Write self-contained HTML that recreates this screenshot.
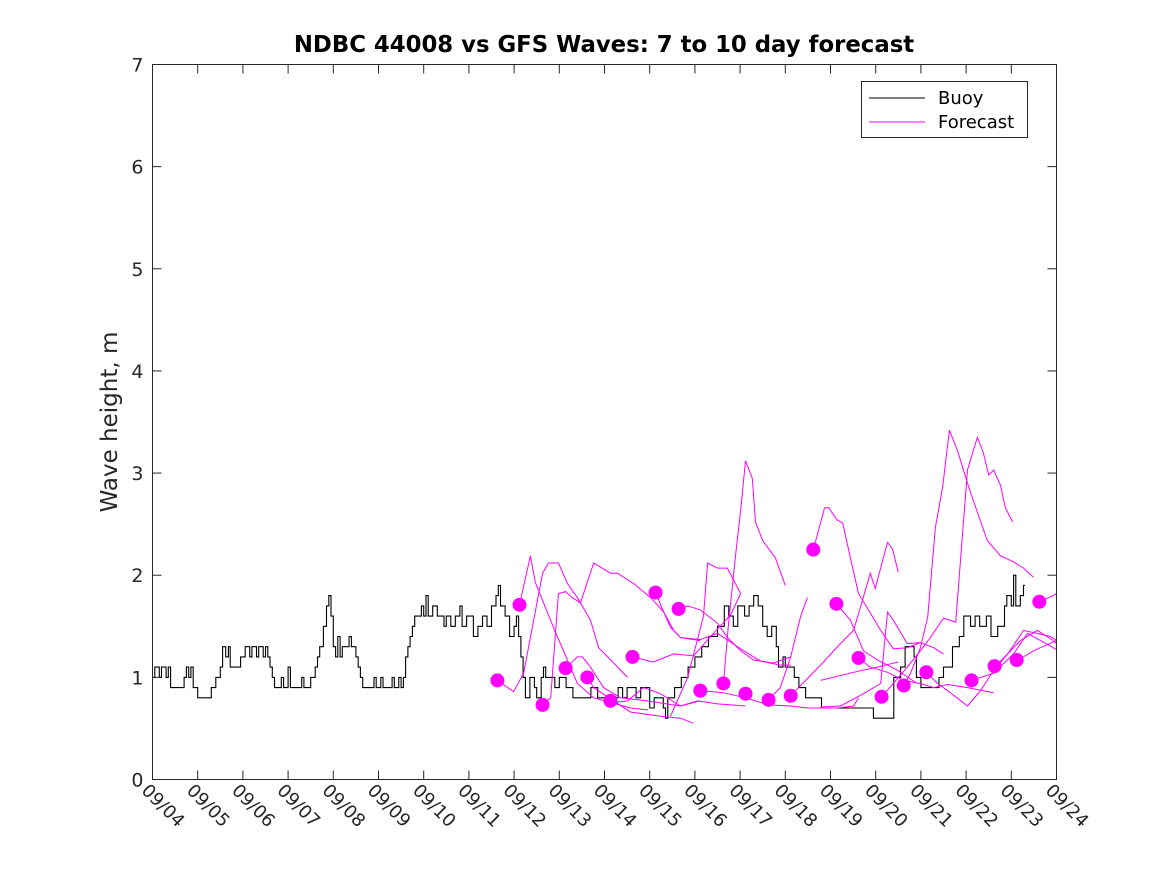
<!DOCTYPE html>
<html><head><meta charset="utf-8"><style>
html,body{margin:0;padding:0;background:#fff;}
svg{display:block;font-family:"DejaVu Sans","Liberation Sans",sans-serif;}
</style></head><body>
<svg id="chart" width="1167" height="875" viewBox="0 0 1167 875" xmlns="http://www.w3.org/2000/svg">
<rect width="1167" height="875" fill="#fff"/>
<text x="604" y="52" text-anchor="middle" font-size="22.8" font-weight="bold" fill="#000">NDBC 44008 vs GFS Waves: 7 to 10 day forecast</text>
<text transform="translate(117,422) rotate(-90)" text-anchor="middle" font-size="23" fill="#262626">Wave height, m</text>
<g id="plot"></g>
<rect x="152.5" y="64.5" width="904" height="715" fill="none" stroke="#262626" stroke-width="1"/>
<g id="axes"></g>
<g>
<rect x="861.5" y="81.5" width="166" height="56" fill="#fff" stroke="#262626"/>
<line x1="869" y1="98" x2="925" y2="98" stroke="#000"/>
<text x="938" y="104" font-size="18" fill="#000">Buoy</text>
<line x1="869" y1="122" x2="925" y2="122" stroke="#ff00ff"/>
<text x="938" y="128" font-size="18" fill="#000">Forecast</text>
</g>
</svg>
<script>
const xTickLabels = ["09/04","09/05","09/06","09/07","09/08","09/09","09/10","09/11","09/12","09/13","09/14","09/15","09/16","09/17","09/18","09/19","09/20","09/21","09/22","09/23","09/24"];
const yTicks = [0,1,2,3,4,5,6,7];
const buoyDay = [0,0.05,0.15,0.2,0.3,0.35,0.4,0.7,0.75,0.8,0.85,0.9,1.0,1.3,1.4,1.5,1.55,1.62,1.68,1.72,1.95,2.05,2.15,2.2,2.3,2.35,2.45,2.5,2.55,2.6,2.65,2.7,2.85,2.9,3.0,3.05,3.3,3.35,3.5,3.6,3.65,3.7,3.78,3.85,3.9,3.95,4.0,4.05,4.1,4.15,4.2,4.35,4.4,4.5,4.55,4.6,4.65,4.9,4.95,5.05,5.1,5.3,5.35,5.45,5.5,5.55,5.6,5.65,5.7,5.75,5.8,5.95,6.0,6.05,6.1,6.2,6.3,6.45,6.5,6.6,6.7,6.8,6.85,6.95,7.1,7.2,7.3,7.4,7.5,7.6,7.65,7.7,7.8,7.9,8.0,8.05,8.1,8.15,8.2,8.25,8.35,8.45,8.5,8.6,8.65,8.7,8.9,9.0,9.15,9.3,9.5,9.7,9.85,10.1,10.3,10.4,10.5,10.7,10.8,11.0,11.1,11.3,11.35,11.4,11.55,11.7,11.85,12.0,12.15,12.3,12.5,12.65,12.75,12.85,12.95,13.1,13.2,13.3,13.4,13.5,13.6,13.7,13.8,13.85,13.95,14.0,14.2,14.3,14.45,14.8,15.95,16.4,16.55,16.65,16.85,16.9,17.0,17.4,17.5,17.7,17.85,17.95,18.1,18.2,18.3,18.45,18.55,18.7,18.85,18.9,19.0,19.05,19.1,19.2,19.27,19.3];
const buoyVal = [1.0,1.1,1.0,1.1,1.0,1.1,0.9,1.0,1.1,1.0,1.1,0.9,0.8,0.9,1.0,1.1,1.3,1.2,1.3,1.1,1.2,1.3,1.2,1.3,1.2,1.3,1.2,1.3,1.2,1.1,1.0,0.9,1.0,0.9,1.1,0.9,1.0,0.9,1.0,1.1,1.2,1.3,1.5,1.7,1.8,1.6,1.3,1.2,1.4,1.2,1.3,1.4,1.3,1.2,1.1,1.0,0.9,1.0,0.9,1.0,0.9,1.0,0.9,1.0,0.9,1.0,1.2,1.3,1.4,1.5,1.6,1.7,1.6,1.8,1.6,1.7,1.6,1.5,1.6,1.5,1.6,1.7,1.5,1.6,1.4,1.5,1.6,1.5,1.7,1.8,1.9,1.7,1.6,1.4,1.5,1.6,1.4,1.2,1.0,0.8,1.0,0.9,0.8,1.0,1.1,1.0,0.9,1.0,0.9,0.8,0.8,0.9,0.8,0.8,0.9,0.8,0.9,0.8,0.9,0.7,0.8,0.7,0.6,0.8,0.9,1.0,1.1,1.2,1.3,1.4,1.5,1.7,1.6,1.5,1.7,1.6,1.7,1.8,1.7,1.5,1.4,1.5,1.3,1.1,1.2,1.1,1.0,0.9,0.8,0.7,0.6,1.0,1.1,1.3,1.2,1.0,0.9,1.0,1.1,1.3,1.4,1.6,1.5,1.6,1.5,1.6,1.4,1.5,1.7,1.8,1.7,2.0,1.7,1.8,1.9,1.9];
const dotDay = [7.63,8.12,8.63,9.14,9.62,10.13,10.62,11.13,11.64,12.12,12.63,13.12,13.63,14.12,14.62,15.13,15.62,16.13,16.62,17.12,18.12,18.63,19.12,19.62];
const dotVal = [0.97,1.71,0.73,1.09,1.0,0.77,1.2,1.83,1.67,0.87,0.94,0.84,0.78,0.82,2.25,1.72,1.19,0.81,0.92,1.05,0.97,1.11,1.17,1.74];
const fc1Day=[7.63,7.99,8.21,8.63,8.76,8.98,9.18,9.40,9.69,9.87,10.07,10.29,10.51];
const fc1Val=[0.97,0.86,1.04,2.02,2.12,2.12,1.92,1.78,1.56,1.29,1.20,1.10,1.00];
const fc2Day=[8.12,8.36,8.47,8.87,9.18,9.40,9.76,10.58,10.97];
const fc2Val=[1.71,2.19,1.93,1.49,1.17,0.94,0.80,0.70,0.68];
const fc3Day=[8.63,8.81,8.98,9.14,9.29,9.47,9.76,10.13,10.29,10.64,11.02,11.31,11.53,11.68,12.12];
const fc3Val=[0.73,0.80,1.82,1.84,1.78,1.73,2.12,2.02,2.02,1.92,1.78,1.64,1.46,1.39,1.36];
const fc4Day=[9.14,9.40,9.51,9.69,9.98,10.35,10.95,11.68,12.12];
const fc4Val=[1.09,1.20,1.20,1.10,0.90,0.80,0.77,0.72,0.77];
const fc5Day=[9.62,9.76,10.20,10.58,11.24,11.68,11.97];
const fc5Val=[1.00,0.90,0.77,0.66,0.62,0.60,0.55];
const fc6Day=[10.13,10.51,10.86,11.24,11.68,12.06,12.50,13.12];
const fc6Val=[0.75,0.77,0.90,0.84,0.72,0.77,0.74,0.72];
const fc7Day=[10.62,11.08,11.53,11.97,12.41,12.79,13.01];
const fc7Val=[1.20,1.15,1.23,1.21,1.43,1.61,1.82];
const fc8Day=[11.13,11.31,11.46,11.68,12.12,12.50,13.01,13.45,13.89,14.12];
const fc8Val=[1.83,1.64,1.49,1.39,1.37,1.43,1.28,1.16,1.12,1.12];
const fc9Day=[11.64,11.84,12.12,12.50,12.72,13.01,13.30,13.74,14.12];
const fc9Val=[1.67,1.70,1.66,1.53,1.39,1.26,1.17,1.14,1.20];
const fc10Day=[11.46,11.84,12.19,12.28,12.50,12.72,13.01];
const fc10Val=[0.62,1.00,1.60,2.12,2.07,2.07,1.82];
const fc11Day=[12.63,12.74,12.90,13.01,13.12,13.27,13.34,13.50,13.78,14.00];
const fc11Val=[0.94,1.50,2.20,2.63,3.12,2.95,2.52,2.34,2.17,1.90];
const fc12Day=[12.12,12.63,13.12,13.63,14.12,14.49,15.15,15.51,15.62];
const fc12Val=[0.87,0.85,0.80,0.73,0.72,0.70,0.70,0.72,0.80];
const fc13Day=[13.63,13.89,14.12,14.34,14.49];
const fc13Val=[0.78,0.90,1.20,1.60,1.78];
const fc14Day=[14.12,14.45,14.78,15.22,15.51,15.77,15.88,15.99,16.26,16.37,16.50];
const fc14Val=[0.82,0.97,1.12,1.33,1.46,1.85,2.02,1.87,2.32,2.26,2.03];
const fc15Day=[14.62,14.87,14.96,15.15,15.27,15.44,15.62,15.88,16.11,16.39,16.70,16.99,17.28,17.50];
const fc15Val=[2.25,2.66,2.66,2.54,2.51,2.17,1.82,1.63,1.46,1.28,1.29,1.34,1.29,1.23];
const fc16Day=[15.13,15.44,15.73,16.04,16.48,16.92];
const fc16Val=[1.72,1.56,1.26,1.17,1.07,0.94];
const fc17Day=[15.62,15.88,16.26,16.62,16.99,17.28,17.59,18.03,18.61];
const fc17Val=[1.19,1.10,1.05,0.97,0.94,0.90,0.93,0.90,0.85];
const fc18Day=[16.13,16.39,16.70,16.99,17.21,17.50,17.77,18.03,18.16,18.25,18.38,18.50,18.61,18.76,18.87,19.03];
const fc18Val=[0.81,0.94,1.10,1.26,1.39,1.58,1.54,3.03,3.22,3.35,3.20,2.98,3.03,2.88,2.66,2.52];
const fc19Day=[16.62,16.77,16.99,17.15,17.32,17.48,17.63,17.81,18.03,18.16,18.47,18.76,19.05,19.27,19.49];
const fc19Val=[0.92,1.04,1.29,1.59,2.47,2.86,3.42,3.22,2.90,2.73,2.34,2.19,2.13,2.07,1.98];
const fc20Day=[17.12,17.37,17.59,18.03,18.32,18.61,18.92,19.27,19.87,20.0];
const fc20Val=[1.05,0.94,0.87,0.72,0.87,1.07,1.23,1.46,1.40,1.36];
const fc21Day=[18.12,18.61,19.05,19.36,19.93,20.0];
const fc21Val=[0.97,1.04,1.23,1.43,1.29,1.27];
const fc22Day=[18.63,18.92,19.20,19.58,19.93,20.0];
const fc22Val=[1.10,1.23,1.36,1.46,1.36,1.33];
const fc23Day=[19.12,19.49,20.0];
const fc23Val=[1.16,1.26,1.36];
const fc24Day=[19.62,19.93,20.0];
const fc24Val=[1.74,1.80,1.82];
const fc25Day=[14.78,15.22,15.73,16.11,16.26,16.39,16.70,16.99];
const fc25Val=[0.71,0.72,0.84,0.94,1.64,1.56,1.33,1.34];
const fc26Day=[14.78,15.51,16.04,16.50];
const fc26Val=[0.97,1.05,1.10,1.15];
const fcDays=[fc1Day,fc2Day,fc3Day,fc4Day,fc5Day,fc6Day,fc7Day,fc8Day,fc9Day,fc10Day,fc11Day,fc12Day,fc13Day,fc14Day,fc15Day,fc16Day,fc17Day,fc18Day,fc19Day,fc20Day,fc21Day,fc22Day,fc23Day,fc24Day,fc25Day,fc26Day];
const fcVals=[fc1Val,fc2Val,fc3Val,fc4Val,fc5Val,fc6Val,fc7Val,fc8Val,fc9Val,fc10Val,fc11Val,fc12Val,fc13Val,fc14Val,fc15Val,fc16Val,fc17Val,fc18Val,fc19Val,fc20Val,fc21Val,fc22Val,fc23Val,fc24Val,fc25Val,fc26Val];

const NS="http://www.w3.org/2000/svg";
const X0=152.5,X1=1056.5,Y0=779.5,Y1=64.5,DMAX=20,VMAX=7;
function xs(d){return X0+(X1-X0)*d/DMAX;}
function ys(v){return Y0-(Y0-Y1)*v/VMAX;}
const plot=document.getElementById('plot');
const axes=document.getElementById('axes');
function mk(t,attrs,parent){const e=document.createElementNS(NS,t);for(const k in attrs)e.setAttribute(k,attrs[k]);parent.appendChild(e);return e;}

let p="";
for(let i=0;i<buoyDay.length;i++){
  const x=xs(buoyDay[i]).toFixed(1), y=ys(buoyVal[i]).toFixed(1);
  if(i===0)p+="M"+x+","+y; else p+=" H"+x+" V"+y;
}
const bl=mk('path',{d:p,fill:'none',stroke:'#000','stroke-width':1.1},plot);



for(let s=0;s<fcDays.length;s++){
  const pts=fcDays[s].map((d,i)=>xs(d).toFixed(1)+","+ys(fcVals[s][i]).toFixed(1)).join(" ");
  const fl=mk('polyline',{points:pts,fill:'none',stroke:'#ff00ff','stroke-width':1},plot);
  
  
}
for(let i=0;i<dotDay.length;i++){
  const c=mk('circle',{cx:xs(dotDay[i]),cy:ys(dotVal[i]),r:7,fill:'#ff00ff'},plot);
  
  
}
yTicks.forEach(v=>{
  const y=ys(v);
  mk('line',{x1:X0,y1:y,x2:X0+9,y2:y,stroke:'#262626'},axes);
  mk('line',{x1:X1,y1:y,x2:X1-9,y2:y,stroke:'#262626'},axes);
  const t=mk('text',{x:X0-9,y:y+7,'text-anchor':'end','font-size':19,fill:'#262626'},axes);
  t.textContent=v;
  
  
});
xTickLabels.forEach((lab,i)=>{
  const x=xs(i);
  mk('line',{x1:x,y1:Y0,x2:x,y2:Y0-9,stroke:'#262626'},axes);
  mk('line',{x1:x,y1:Y1,x2:x,y2:Y1+9,stroke:'#262626'},axes);
  const t=mk('text',{x:0,y:0,transform:`translate(${x-12},${Y0+12}) rotate(45)`,'font-size':18,fill:'#262626'},axes);
  t.textContent=lab;
  
  
});
</script>
</body></html>
